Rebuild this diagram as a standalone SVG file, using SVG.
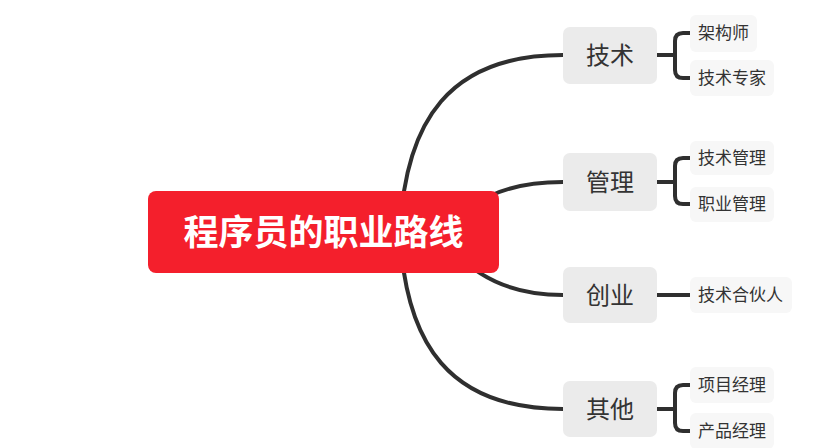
<svg xmlns="http://www.w3.org/2000/svg" width="830" height="448" viewBox="0 0 830 448">
<style>
.line{fill:none;stroke:#2f2f2f;stroke-width:4;stroke-linecap:round}
.br{fill:#ebebeb}
.lf{fill:#f7f7f7}
.t{font-family:"Noto Sans CJK SC","Noto Sans",sans-serif;fill:#333}
.bt{font-size:24px;text-anchor:middle}
.lt{font-size:17px}
</style>
<rect width="830" height="448" fill="#fff"/>
<g id="connectors">
<path class="line" d="M400 232 C405 120 450 55 563 55"/>
<path class="line" d="M450 232 Q480 182 563 182"/>
<path class="line" d="M440 232 Q480 295 563 295"/>
<path class="line" d="M400 232 C405 345 450 409 563 409"/>
<path class="line" d="M657 55 H674 M690 33 H683 Q675 33 675 41 V70 Q675 78 683 78 H690"/>
<path class="line" d="M657 182 H674 M690 158 H683 Q675 158 675 166 V196 Q675 204 683 204 H690"/>
<path class="line" d="M657 295 H690"/>
<path class="line" d="M657 409 H674 M690 385 H683 Q675 385 675 393 V423 Q675 431 683 431 H690"/>
</g>
<g id="root">
<rect x="148" y="191" width="351" height="82" rx="8" fill="#f41f2c"/>
<text x="323.5" y="245" text-anchor="middle" font-family="Noto Sans CJK SC,sans-serif" font-size="35" font-weight="bold" fill="#fff">程序员的职业路线</text>
</g>
<g id="n-jishu"><rect class="br" x="563" y="27" width="94" height="57" rx="7"/><text class="t bt" x="610" y="64">技术</text></g>
<g id="n-guanli"><rect class="br" x="563" y="153" width="94" height="58" rx="7"/><text class="t bt" x="610" y="191">管理</text></g>
<g id="n-chuangye"><rect class="br" x="563" y="267" width="94" height="56" rx="7"/><text class="t bt" x="610" y="304">创业</text></g>
<g id="n-qita"><rect class="br" x="563" y="381" width="94" height="56" rx="7"/><text class="t bt" x="610" y="418">其他</text></g>
<g id="l-jiagoushi"><rect class="lf" x="690" y="15" width="67" height="37" rx="6"/><text class="t lt" x="698" y="39">架构师</text></g>
<g id="l-jishuzhuanjia"><rect class="lf" x="690" y="60" width="84" height="36" rx="6"/><text class="t lt" x="698" y="84">技术专家</text></g>
<g id="l-jishuguanli"><rect class="lf" x="690" y="141" width="84" height="34" rx="6"/><text class="t lt" x="698" y="164">技术管理</text></g>
<g id="l-zhiyeguanli"><rect class="lf" x="690" y="187" width="84" height="35" rx="6"/><text class="t lt" x="698" y="210">职业管理</text></g>
<g id="l-hehuoren"><rect class="lf" x="690" y="277" width="102" height="36" rx="6"/><text class="t lt" x="698" y="301">技术合伙人</text></g>
<g id="l-xiangmu"><rect class="lf" x="690" y="367" width="84" height="36" rx="6"/><text class="t lt" x="698" y="391">项目经理</text></g>
<g id="l-chanpin"><rect class="lf" x="690" y="413" width="84" height="36" rx="6"/><text class="t lt" x="698" y="437">产品经理</text></g>
</svg>
